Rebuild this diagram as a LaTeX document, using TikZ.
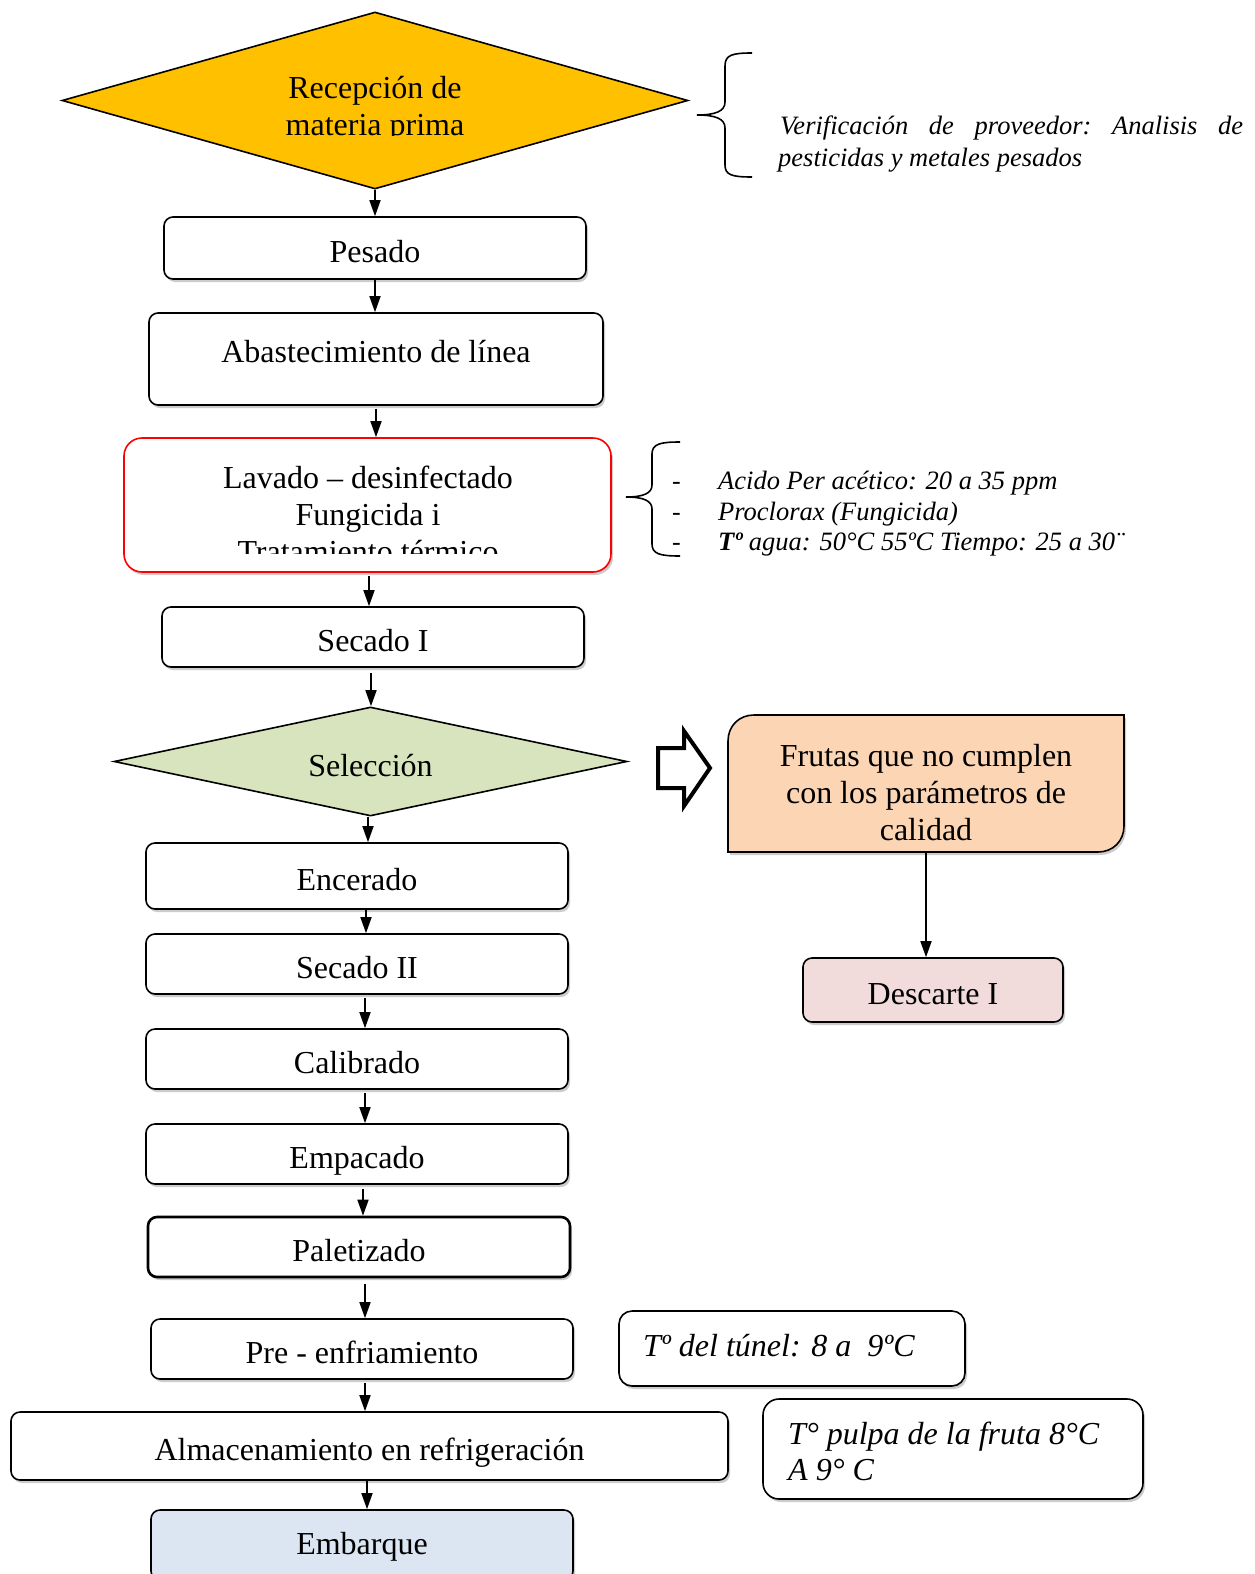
\documentclass[tikz,border=0pt]{standalone}
\usepackage{fontspec}
\setmainfont{Liberation Serif}
\usetikzlibrary{arrows.meta,shapes.geometric,shadows}
\definecolor{recy}{HTML}{FFC000}
\definecolor{selg}{HTML}{D7E4BD}
\definecolor{frut}{HTML}{FCD5B5}
\definecolor{desc}{HTML}{F2DCDB}
\definecolor{embb}{HTML}{DCE6F2}
\begin{document}
\begin{tikzpicture}[x=1pt,y=-1pt,
  every node/.style={font=\fontsize{32}{37}\selectfont},
  shad/.style={drop shadow={shadow xshift=2pt,shadow yshift=-3pt,opacity=0.4}},
  box/.style={draw, line width=1.6pt, rounded corners=9pt, fill=white, shad, text height=31pt, text depth=2pt, inner sep=0pt},
  plain/.style={inner sep=0pt, text height=31pt, text depth=2pt},
  dia/.style={diamond, draw, line width=1.6pt, inner sep=0pt},
  arr/.style={line width=1.6pt, -{Triangle[length=16pt,width=11pt]}},
  note/.style={font=\fontsize{26.5}{31}\selectfont\itshape, inner sep=0pt, anchor=west, text height=18pt, text depth=6pt},
  bignote/.style={font=\fontsize{32}{37}\selectfont\itshape, inner sep=0pt, anchor=west, text height=21pt, text depth=7pt},
  brace/.style={line width=1.6pt}]
\fill[white] (0,0) rectangle (1254,1574);
\useasboundingbox (0,0) rectangle (1254,1574);

% Recepcion diamond
\node[dia, fill=recy, minimum width=626pt, minimum height=177pt] (rec) at (375,100.5) {};
\begin{scope}
\clip (60,10) rectangle (690,135);
\node[align=center, inner sep=0pt] (rect) at (375,109) {Recepción de\\materia prima};
\end{scope}

% brace 1
\draw[brace] (752,53) .. controls (732,53) and (725,55) .. (725,66) -- (725,102) .. controls (725,111) and (716,115) .. (697,115)
  .. controls (716,115) and (725,119) .. (725,128) -- (725,165) .. controls (725,175) and (732,177) .. (752,177);
\node[note] (ver1) at (780,128) {\makebox[463pt][l]{Verificación\hfill de\hfill proveedor:\hfill Analisis\hfill de}};
\node[note] (ver2) at (778,160) {pesticidas y metales pesados};

% main chain
\node[box, minimum width=422pt, minimum height=62pt] (pes) at (375,248) {Pesado};
\node[box, minimum width=454pt, minimum height=92pt] (abs) at (376,359) {};
\node[plain] (abst) at (376,348) {Abastecimiento de línea};
\node[box, draw=red, rounded corners=18pt, minimum width=487pt, minimum height=134pt] (lav) at (367.5,505) {};
\begin{scope}
\clip (130,440) rectangle (605,553);
\node[align=center, inner sep=0pt] (lavt) at (368,514) {Lavado -- desinfectado\\Fungicida i\\Tratamiento térmico};
\end{scope}

% brace 2
\draw[brace] (680,442) .. controls (660,442) and (652,444) .. (652,454) -- (652,485) .. controls (652,493) and (644,497) .. (626,497)
  .. controls (644,497) and (652,501) .. (652,509) -- (652,544) .. controls (652,554) and (660,556) .. (680,556);
\node[note, font=\fontsize{26}{31}\selectfont] (d1) at (672,483) {-};
\node[note, font=\fontsize{26}{31}\selectfont] (d2) at (672,514) {-};
\node[note, font=\fontsize{26}{31}\selectfont] (d3) at (672,544) {-};
\node[note] (l1) at (718,483) {Acido Per acético: 20 a 35 ppm};
\node[note] (l2) at (718,514) {Proclorax (Fungicida)};
\node[note] (l3) at (718,544) {\textbf{Tº} agua: 50°C 55ºC Tiempo: 25 a 30¨};

\node[box, minimum width=422pt, minimum height=60pt] (sec1) at (373,637) {Secado I};
\node[dia, fill=selg, minimum width=513pt, minimum height=109pt] (sel) at (370.5,761.5) {};
\node[plain] (selt) at (370.5,761.5) {Selección};
\node[box, minimum width=422pt, minimum height=66pt] (enc) at (357,876) {Encerado};
\node[box, minimum width=422pt, minimum height=60pt] (sec2) at (357,964) {Secado II};
\node[box, minimum width=422pt, minimum height=60pt] (cal) at (357,1059) {Calibrado};
\node[box, minimum width=422pt, minimum height=60pt] (emp) at (357,1154) {Empacado};
\node[box, line width=2.6pt, minimum width=422pt, minimum height=60pt] (pal) at (359,1247) {Paletizado};
\node[box, minimum width=422pt, minimum height=60pt] (pre) at (362,1349) {Pre - enfriamiento};
\node[box, minimum width=717pt, minimum height=68pt] (alm) at (369.5,1446) {Almacenamiento en refrigeración};
\node[box, fill=embb, minimum width=422pt, minimum height=70pt] (emb) at (362,1545) {};
\node[plain] (embt) at (362,1540) {Embarque};

% arrows main chain
\draw[arr] (rec.south) -- (rec.south |- pes.north);
\draw[arr] (pes.south) -- (pes.south |- abs.north);
\draw[arr, shorten <=3pt] (abs.south) -- (abs.south |- lav.north);
\draw[arr, shorten <=3pt] ([xshift=1.5pt]lav.south) -- ([xshift=1.5pt]lav.south |- sec1.north);
\draw[arr, shorten <=5pt] ([xshift=-2pt]sec1.south) -- ([xshift=-2pt]sec1.south |- sel.north);
\draw[arr] ([xshift=-2.5pt]sel.south) -- ([xshift=-2.5pt]sel.south |- enc.north);
\draw[arr] ([xshift=9pt]enc.south) -- ([xshift=9pt]enc.south |- sec2.north);
\draw[arr, shorten <=3pt] ([xshift=8pt]sec2.south) -- ([xshift=8pt]sec2.south |- cal.north);
\draw[arr, shorten <=3pt] ([xshift=8pt]cal.south) -- ([xshift=8pt]cal.south |- emp.north);
\draw[arr, shorten <=4pt] ([xshift=6pt]emp.south) -- ([xshift=6pt]emp.south |- pal.north);
\draw[arr, shorten <=6pt] ([xshift=6pt]pal.south) -- ([xshift=6pt]pal.south |- pre.north);
\draw[arr, shorten <=3pt] ([xshift=3pt]pre.south) -- ([xshift=3pt]pre.south |- alm.north);
\draw[arr] ([xshift=-2.5pt]alm.south) -- ([xshift=-2.5pt]alm.south |- emb.north);

% block arrow
\draw[line width=4pt, line join=miter, fill=white] (658,748) -- (684,748) -- (684,731) -- (710,768) -- (684,806) -- (684,788) -- (658,788) -- cycle;

% Frutas box
\draw[line width=1.6pt, fill=frut, shad] (728,852) -- (728,741) .. controls (728,726) and (739,715) .. (754,715) -- (1124,715) -- (1124,826) .. controls (1124,841) and (1113,852) .. (1098,852) -- cycle;
\node[minimum width=396pt, minimum height=137pt, inner sep=0pt] (fru) at (926,783.5) {};
\node[align=center, inner sep=0pt] (frut) at (926,793) {Frutas que no cumplen\\con los parámetros de\\calidad};
\node[box, fill=desc, minimum width=260pt, minimum height=64pt] (des) at (933,990) {Descarte I};
\draw[arr] (fru.south) -- (fru.south |- des.north);

% notes bottom
\node[box, rounded corners=13pt, minimum width=346pt, minimum height=75pt] (tun) at (792,1348.5) {};
\node[bignote] (tunt) at (643,1349) {Tº del túnel: 8 a\ \ 9ºC};
\node[box, rounded corners=16pt, minimum width=380pt, minimum height=100pt] (pul) at (953,1449) {};
\node[bignote] (pul1) at (788,1437) {T° pulpa de la fruta 8°C};
\node[bignote] (pul2) at (788,1473) {A 9° C};
\end{tikzpicture}
\end{document}
